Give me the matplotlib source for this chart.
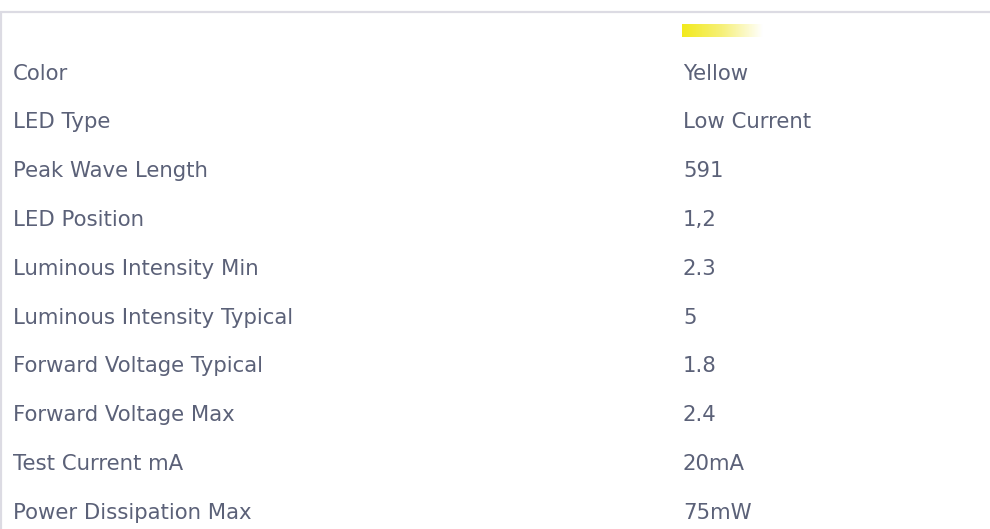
import numpy as np
import matplotlib.pyplot as plt
from matplotlib.colors import LinearSegmentedColormap

# Spec table rows
labels = [
    "Color", "LED Type", "Peak Wave Length", "LED Position",
    "Luminous Intensity Min", "Luminous Intensity Typical",
    "Forward Voltage Typical", "Forward Voltage Max",
    "Test Current mA", "Power Dissipation Max",
]
values = ["Yellow", "Low Current", "591", "1,2", "2.3", "5", "1.8", "2.4", "20mA", "75mW"]

text_color = "#5b6178"
border_color = "#dcdbe3"

fig = plt.figure(figsize=(9.9, 5.29), dpi=100)
ax = fig.add_axes([0, 0, 1, 1])
ax.set_xlim(0, 990)
ax.set_ylim(529, 0)
ax.axis("off")

# Frame: top and left border
ax.plot([0, 990], [12, 12], color=border_color, linewidth=1.6, solid_capstyle="butt")
ax.plot([1, 1], [12, 529], color=border_color, linewidth=1.6, solid_capstyle="butt")

# Colour swatch fading from yellow to white
cmap = LinearSegmentedColormap.from_list("swatch", ["#f2ea1c", "#f6f07a", "#ffffff"])
ax.imshow(np.linspace(0, 1, 200).reshape(1, -1), cmap=cmap, aspect="auto",
          extent=[682, 763, 37.5, 25], zorder=2)

row0, step = 73.5, 48.8
for i, (lab, val) in enumerate(zip(labels, values)):
    y = row0 + i * step
    ax.text(13, y, lab, fontsize=15.3, color=text_color, va="center", ha="left",
            family="DejaVu Sans")
    ax.text(683, y, val, fontsize=15.3, color=text_color, va="center", ha="left",
            family="DejaVu Sans")

ax.set_xlim(0, 990)
ax.set_ylim(529, 0)
fig.savefig("out.png", dpi=100)
